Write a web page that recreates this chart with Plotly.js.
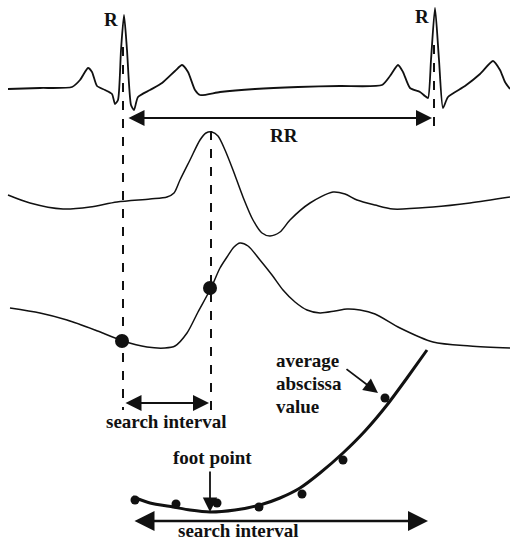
<!DOCTYPE html>
<html>
<head>
<meta charset="utf-8">
<script src="https://cdn.plot.ly/plotly-3.0.1.min.js"></script>
<style>html,body{margin:0;padding:0;background:#fff;}#chart{width:510px;height:540px;}</style>
</head>
<body>
<div id="chart"></div>
<script>
// ECG trace (top)
var ecgX = [8,40,72,80,88,92,97,105,112,115,118,121,124,127,131,134,138,150,162,175,182,188,195,200,220,255,298,340,382,390,398,403,410,420,425,428,431,435,439,443,448,465,480,493,500,505,510];
var ecgY = [89,88,87,80,68,72,86,90,94,104,100,50,15,50,105,110,97,90,83,71,65,72,90,95,92,89,87,86,85,76,65,72,88,92,96,98,60,8,60,108,97,86,74,61,70,82,89];
// Second trace (middle)
var midX = [8,30,63,90,117,150,167,174,180,190,200,206,212,218,225,233,243,253,262,270,280,290,310,333,345,357,375,393,433,470,510];
var midY = [195,203,209,207,202,199,197,193,180,160,140,133,132,136,150,170,197,220,233,236,232,220,203,192,194,200,205,209,207,203,197];
// Third trace (bottom)
var lowX = [10,40,67,95,123,147,165,175,187,198,211,220,227,234,240,248,260,272,283,295,307,320,335,347,360,375,400,433,470,510];
var lowY = [308,313,320,330,341,347,348,346,333,312,288,268,257,247,243,246,260,275,290,302,310,313,311,309,310,314,328,342,346,348];
// foot-point markers on the bottom trace
var footX = [122,210];
var footY = [341,288];
// fitted curve and sample points
var fitX = [133,150,173,190,210,235,260,280,300,320,343,365,387,407,427];
var fitY = [497,503,507,510,512,510,505,498,488,473,453,431,405,378,350];
var ptsX = [135,176,217,259,302,343,385];
var ptsY = [500,504,503,507,494,460,398];

var blk = '#111';
var traces = [
  {x: ecgX, y: ecgY, mode: 'lines', line: {color: blk, width: 1.8, shape: 'spline', smoothing: 0.6}, hoverinfo: 'skip'},
  {x: midX, y: midY, mode: 'lines', line: {color: blk, width: 1.5, shape: 'spline', smoothing: 0.8}, hoverinfo: 'skip'},
  {x: lowX, y: lowY, mode: 'lines', line: {color: blk, width: 1.5, shape: 'spline', smoothing: 0.8}, hoverinfo: 'skip'},
  {x: fitX, y: fitY, mode: 'lines', line: {color: blk, width: 3, shape: 'spline', smoothing: 0.6}, hoverinfo: 'skip'},
  {x: ptsX, y: ptsY, mode: 'markers', marker: {color: blk, size: 9}, hoverinfo: 'skip'},
  {x: footX, y: footY, mode: 'markers', marker: {color: blk, size: 14}, hoverinfo: 'skip'}
];

var dashed = {color: blk, width: 2, dash: 'dash'};
var shapes = [
  {type: 'line', xref: 'x', yref: 'y', x0: 123, x1: 123, y0: 47, y1: 410, line: dashed},
  {type: 'line', xref: 'x', yref: 'y', x0: 211, x1: 211, y0: 131, y1: 412, line: dashed},
  {type: 'line', xref: 'x', yref: 'y', x0: 434, x1: 434, y0: 45, y1: 128, line: dashed}
];

var tf = {family: 'Liberation Serif', size: 19, color: blk, weight: 'bold'};
function txt(x, y, t, anchor) {
  return {x: x, y: y, xref: 'x', yref: 'y', text: t, showarrow: false, font: tf, xanchor: anchor || 'center', yanchor: 'middle'};
}
function arr(x0, y0, x1, y1, both, w) {
  return {x: x1, y: y1, ax: x0, ay: y0, xref: 'x', yref: 'y', axref: 'x', ayref: 'y', text: '', showarrow: true,
    arrowhead: 2, startarrowhead: 2, arrowsize: 1.6, startarrowsize: 1.6, arrowwidth: w || 2, arrowcolor: blk,
    arrowside: both ? 'end+start' : 'end', standoff: 0, startstandoff: 0};
}
var annotations = [
  txt(111, 19, 'R'), txt(422, 16, 'R'), txt(284, 135, 'RR'),
  txt(166, 421, 'search interval'), txt(212, 457, 'foot point'),
  txt(274, 360, 'average', 'left'), txt(274, 383, 'abscissa', 'left'), txt(274, 406, 'value', 'left'),
  txt(238, 530, 'search interval'),
  arr(127, 118, 432, 118, true, 2),
  arr(124, 403, 209, 403, true, 2),
  arr(133, 521, 428, 521, true, 2.5),
  arr(210, 470, 210, 512, false, 1.8),
  arr(345, 368, 378, 393, false, 1.8)
];

var layout = {
  width: 510, height: 540,
  margin: {l: 0, r: 0, t: 0, b: 0},
  paper_bgcolor: '#fff', plot_bgcolor: '#fff',
  showlegend: false,
  font: {family: 'Liberation Serif'},
  xaxis: {range: [0, 510], visible: false, fixedrange: true},
  yaxis: {range: [540, 0], visible: false, fixedrange: true},
  shapes: shapes,
  annotations: annotations
};
Plotly.newPlot('chart', traces, layout, {staticPlot: true, displayModeBar: false});
</script>
</body>
</html>
